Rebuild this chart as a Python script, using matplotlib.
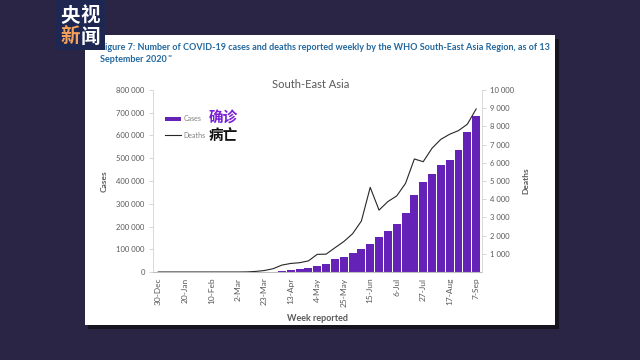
import numpy as np
import matplotlib.pyplot as plt
from matplotlib.patches import Rectangle
from matplotlib.ticker import FuncFormatter, FixedLocator

plt.rcParams['font.family'] = ['Lato', 'DejaVu Sans']

# weekly data, SEARO, 30-Dec-2019 .. 7-Sep-2020
week_idx = np.arange(37)
cases = [0, 0, 0, 10, 5, 5, 10, 5, 10, 60, 150, 400, 500, 1000,
         3000, 7000, 12000, 16000, 26000, 36000, 55000, 65000, 82000, 101000,
         121000, 153000, 181000, 209000, 260000, 339000, 396000, 432000,
         472000, 493000, 537000, 615000, 686000]
deaths = [0, 0, 0, 0, 0, 0, 0, 0, 0, 0, 5, 30, 80, 180,
          380, 470, 510, 610, 970, 980, 1330, 1670, 2100, 2800,
          4650, 3400, 3870, 4180, 4870, 6210, 6060, 6800,
          7290, 7570, 7770, 8120, 8960]
tick_labels = ['30-Dec', '20-Jan', '10-Feb', '2-Mar', '23-Mar', '13-Apr', '4-May',
               '25-May', '15-Jun', '6-Jul', '27-Jul', '17-Aug', '7-Sep']
tick_pos = np.arange(0, 37, 3)

W, H = 640, 360
def fx(px): return px / W
def fy(py): return 1 - py / H

fig = plt.figure(figsize=(6.4, 3.6), dpi=100)
fig.patch.set_facecolor('#2a2544')

# white slide panel with shadow
fig.add_artist(Rectangle((fx(88), fy(329)), 471 / W, 290 / H, transform=fig.transFigure,
                         fc='#16141f', ec='none', zorder=-3))
fig.add_artist(Rectangle((fx(85), fy(325)), 470 / W, 290 / H, transform=fig.transFigure,
                         fc='white', ec='none', zorder=-2))

# logo
fig.add_artist(Rectangle((fx(55), fy(50)), 50 / W, 50 / H, transform=fig.transFigure,
                         fc='#1e2752', ec='none', zorder=5))
cjk = ['Noto Sans CJK SC', 'DejaVu Sans']
fig.text(fx(70.5), fy(16), '央', color='white', fontsize=14, fontweight='bold',
         family=cjk, ha='center', va='center', zorder=6)
fig.text(fx(90), fy(16), '视', color='white', fontsize=14, fontweight='bold',
         family=cjk, ha='center', va='center', zorder=6)
fig.text(fx(70.5), fy(37), '新', color='#f2a05c', fontsize=14, fontweight='bold',
         family=cjk, ha='center', va='center', zorder=6)
fig.text(fx(90), fy(37), '闻', color='white', fontsize=14, fontweight='bold',
         family=cjk, ha='center', va='center', zorder=6)

# slide title
tcol = '#23689e'
fig.text(fx(100), fy(47), 'Figure 7: Number of COVID-19 cases and deaths reported weekly by the WHO '
         'South-East Asia Region, as of 13', color=tcol, fontsize=6.5, fontweight='bold',
         ha='left', va='center', zorder=3)
t2 = fig.text(fx(100), fy(59), 'September 2020', color=tcol, fontsize=6.5, fontweight='bold',
              ha='left', va='center', zorder=3)
bb = t2.get_window_extent(renderer=fig.canvas.get_renderer())
fig.text(bb.x1 / W + 0.001, fy(57), '**', color=tcol, fontsize=4.5, fontweight='bold',
         ha='left', va='center', zorder=3)

# chart
ax = fig.add_axes([fx(153), fy(272), 329 / W, 182 / H])
ax.set_facecolor('none')
ax.bar(week_idx, cases, width=0.9, color='#6422b6', label='Cases')
ax.set_ylim(0, 800000)
ax.set_xlim(-0.6, 36.66)
ax.yaxis.set_major_locator(FixedLocator(np.arange(0, 800001, 100000)))
ax.yaxis.set_major_formatter(FuncFormatter(lambda v, p: f'{int(v):,}'.replace(',', ' ')))
ax.set_xticks(tick_pos)
ax.set_xticklabels(tick_labels, rotation=90)
ax.tick_params(axis='x', length=0, labelsize=6, colors='#595959', pad=4)
ax.tick_params(axis='y', length=3, width=0.6, color='#d0d0d0', labelsize=5.5,
               labelcolor='#595959', pad=3)
for s in ['top', 'right']:
    ax.spines[s].set_visible(False)
ax.spines['left'].set_color('#d9d9d9')
ax.spines['bottom'].set_color('#bfbfbf')
ax.spines['left'].set_linewidth(0.7)
ax.set_ylabel('Cases', fontsize=6, fontweight='bold', color='#595959', labelpad=6)
ax.set_xlabel('Week reported', fontsize=6.5, fontweight='bold', color='#595959', labelpad=5)

ax2 = ax.twinx()
ax2.plot(week_idx, deaths, color='#262626', lw=0.8, label='Deaths')
ax2.set_ylim(0, 10000)
ax2.yaxis.set_major_locator(FixedLocator(np.arange(1000, 10001, 1000)))
ax2.yaxis.set_major_formatter(FuncFormatter(lambda v, p: f'{int(v):,}'.replace(',', ' ')))
ax2.tick_params(axis='y', length=3, width=0.6, color='#d0d0d0', labelsize=5.5,
                labelcolor='#595959', pad=3)
for s in ['top', 'left', 'bottom']:
    ax2.spines[s].set_visible(False)
ax2.spines['right'].set_color('#d9d9d9')
ax2.spines['right'].set_linewidth(0.7)
ax2.set_ylabel('Deaths', fontsize=6, fontweight='bold', color='#595959', labelpad=6)

ax.set_title('South-East Asia', fontsize=8, color='#595959', pad=-8, x=0.48)

h1, l1 = ax.get_legend_handles_labels()
h2, l2 = ax2.get_legend_handles_labels()
leg = fig.legend(h1 + h2, l1 + l2, loc='upper left', bbox_to_anchor=(fx(162), fy(112)),
                 frameon=False, fontsize=5, labelcolor='#7f7f7f', handlelength=2.3,
                 handleheight=0.5, labelspacing=1.3, borderpad=0, handletextpad=0.3)

fig.text(fx(209), fy(118), '确诊', color='#7a1fd2', fontsize=10.5, fontweight='bold',
         family=cjk, ha='left', va='center')
fig.text(fx(209), fy(135), '病亡', color='#111111', fontsize=10.5, fontweight='bold',
         family=cjk, ha='left', va='center')

fig.savefig('out.png', dpi=100, facecolor=fig.get_facecolor())
